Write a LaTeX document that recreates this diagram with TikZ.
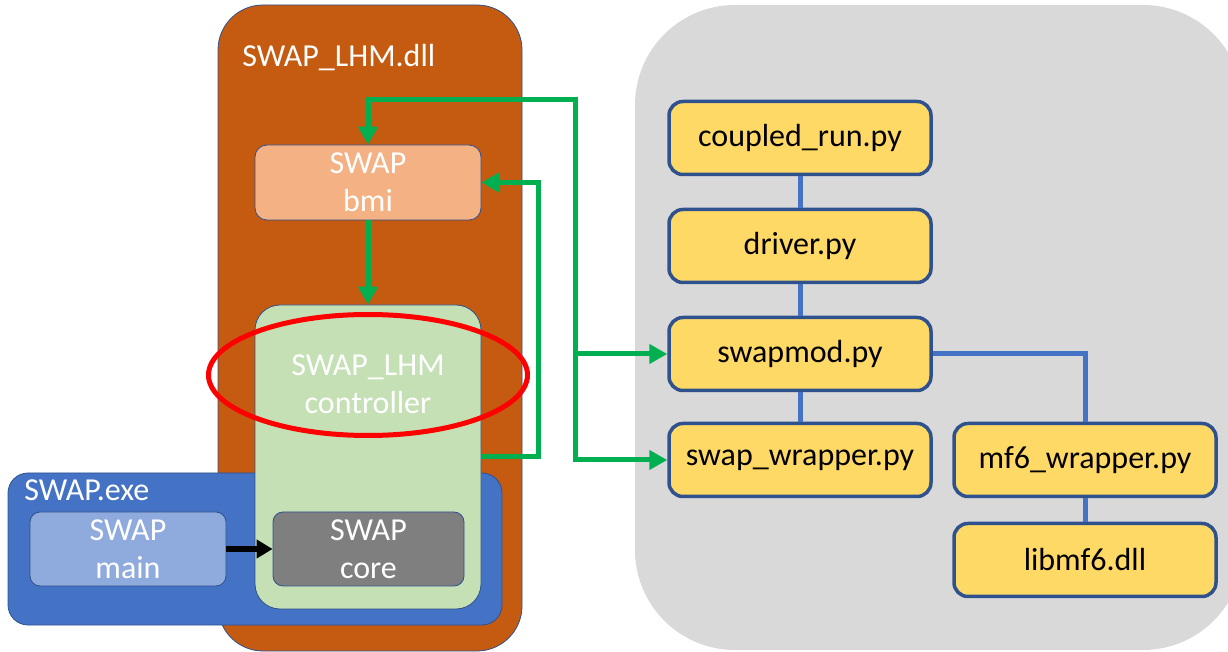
\documentclass[tikz,border=0pt]{standalone}
\usepackage{fontspec}
\setmainfont{Carlito}
\usepackage{xcolor}
\definecolor{m_orange}{HTML}{C55A11}
\definecolor{m_peach}{HTML}{F4B183}
\definecolor{m_mint}{HTML}{C5E0B4}
\definecolor{m_blue}{HTML}{4472C4}
\definecolor{m_sky}{HTML}{8FAADC}
\definecolor{m_core}{HTML}{7F7F7F}
\definecolor{m_grey}{HTML}{D9D9D9}
\definecolor{m_yellow}{HTML}{FFD966}
\definecolor{m_navy}{HTML}{2F528F}
\definecolor{m_green}{HTML}{00B050}
\usepackage{tikz}
\usetikzlibrary{positioning,arrows.meta,shapes.geometric}

\begin{document}
\begin{tikzpicture}[
        x=0.5pt, y=-0.5pt,
        font=\fontsize{16}{19}\selectfont,
        every node/.style={inner sep=0pt},
        block/.style={rectangle, draw=m_navy, thin, text=white, align=center},
        file/.style={rectangle, rounded corners=7pt, fill=m_yellow, draw=m_navy, line width=1.75pt,
                     minimum width=131pt, minimum height=36.5pt, align=center},
        flow/.style={draw=m_green, line width=2.5pt, -{Triangle[length=9pt, width=9.5pt]}},
        call/.style={draw=black, line width=2.6pt, -{Triangle[length=8pt, width=9pt]}},
        link/.style={draw=m_blue, line width=2.5pt}
    ]
        \useasboundingbox (0,0) rectangle (1228,652);

        \node[fill=m_grey, rounded corners=50pt, minimum width=304pt, minimum height=322.5pt] (pyside) at (939,327.5) {};

        \node[block, fill=m_orange, rounded corners=22.5pt, minimum width=152pt, minimum height=323pt] (dll) at (370,328) {};
        \node[anchor=base west, text=white] (dlllabel) at (242,67) {SWAP\_LHM.dll};

        \node[block, fill=m_blue, rounded corners=10pt, minimum width=247pt, minimum height=76pt] (exe) at (255,549) {};
        \node[anchor=base west, text=white] (exelabel) at (24,501) {SWAP.exe};

        \node[block, fill=m_mint, rounded corners=12.5pt, minimum width=113pt, minimum height=152pt] (ctrl) at (368,457) {};
        \node[text=white, align=center] (ctrllabel) at (368,384) {SWAP\_LHM\\controller};

        \node[block, fill=m_peach, rounded corners=6pt, minimum width=113pt, minimum height=37.5pt] (bmi) at (368,182.5) {SWAP\\bmi};
        \node[block, fill=m_sky, rounded corners=5pt, minimum width=98pt, minimum height=37pt] (main) at (128,549) {SWAP\\main};
        \node[block, fill=m_core, rounded corners=5pt, minimum width=95.5pt, minimum height=37pt] (core) at (368.5,549) {SWAP\\core};

        \node[file] (coupled) at (800,138) {coupled\_run.py};
        \node[file] (driver) [below = 15.75pt of coupled] {driver.py};
        \node[file] (swapmod) [below = 15.75pt of driver] {swapmod.py};
        \node[file] (wrap) [below = 14.75pt of swapmod] {swap\_wrapper.py};
        \node[file] (mf6) [right = 9.75pt of wrap] {mf6\_wrapper.py};
        \node[file] (libmf6) [below = 11.75pt of mf6] {libmf6.dll};

        \path[link] (coupled) edge (driver)
                    (driver) edge (swapmod)
                    (swapmod) edge (wrap)
                    (mf6) edge (libmf6);
        \draw[link] (swapmod.east) -| (mf6.north);

        \draw[call] (main.east) -- (core.west);

        \path (swapmod.west) ++(-92,0) coordinate (split);
        \coordinate (gtop) at (split |- 0,100);
        \draw[flow] (bmi.south) -- (ctrl.north);
        \draw[flow] (ctrl.east) -- ++(57,0) |- (bmi.east);
        \draw[flow] (split) -- (gtop) -| (bmi.north);
        \draw[flow] (split) -- (swapmod.west);
        \draw[flow] (split) |- (wrap.west);

        \node[ellipse, draw=red, line width=2.5pt, minimum width=159.5pt, minimum height=60.5pt] (ring) at (368,375) {};
    \end{tikzpicture}
\end{document}
